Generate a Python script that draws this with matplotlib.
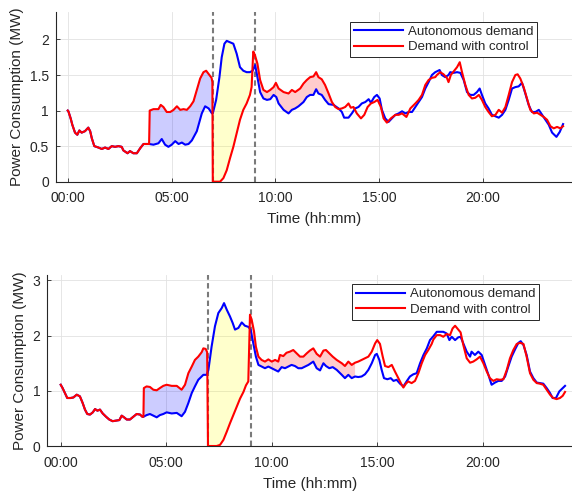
import numpy as np
import matplotlib
matplotlib.use("Agg")
import matplotlib.pyplot as plt

plt.rcParams['font.family'] = ['Liberation Sans', 'DejaVu Sans']
TXT = '#262626'

# ---- panel (a): tiempo en horas, potencia en MW ----
# tramo comun (antes de las 04:00 las dos curvas coinciden)
early_a = [(0.00, 1.00), (0.03, 0.99), (0.14, 0.89), (0.22, 0.80), (0.35, 0.69), (0.46, 0.66),
           (0.56, 0.72), (0.67, 0.69), (0.83, 0.71), (0.99, 0.76), (1.08, 0.71), (1.16, 0.61),
           (1.28, 0.50), (1.48, 0.48), (1.64, 0.46), (1.80, 0.48), (1.96, 0.46), (2.12, 0.50),
           (2.28, 0.49), (2.44, 0.50), (2.60, 0.49), (2.68, 0.44), (2.88, 0.40), (3.00, 0.43),
           (3.16, 0.40), (3.33, 0.40), (3.49, 0.47), (3.65, 0.53), (3.81, 0.53), (3.92, 0.53)]

blue_a = [(3.92, 0.51), (4.13, 0.52), (4.37, 0.54), (4.53, 0.60), (4.69, 0.52), (4.85, 0.49),
          (5.01, 0.52), (5.18, 0.57), (5.34, 0.53), (5.50, 0.55), (5.66, 0.52), (5.82, 0.53),
          (5.98, 0.58), (6.22, 0.71), (6.46, 0.96), (6.62, 1.06), (6.79, 1.03), (6.95, 0.96),
          (6.99, 0.96), (7.15, 1.15), (7.31, 1.47), (7.42, 1.75), (7.55, 1.94), (7.66, 1.98),
          (7.82, 1.96), (7.98, 1.94), (8.14, 1.80), (8.30, 1.61), (8.46, 1.56), (8.62, 1.54),
          (8.78, 1.54), (8.91, 1.56), (9.03, 1.64), (9.14, 1.47), (9.27, 1.26), (9.43, 1.17),
          (9.60, 1.15), (9.76, 1.16), (9.92, 1.22), (10.05, 1.19), (10.16, 1.10), (10.40, 1.01),
          (10.64, 0.96), (10.80, 1.01), (10.96, 1.03), (11.12, 1.06), (11.36, 1.12), (11.52, 1.19),
          (11.68, 1.22), (11.84, 1.22), (11.97, 1.30), (12.08, 1.24), (12.24, 1.22), (12.40, 1.15),
          (12.57, 1.09), (12.81, 1.08), (13.05, 1.03), (13.21, 0.98), (13.32, 0.90), (13.53, 0.90),
          (13.69, 0.96), (13.85, 1.03), (14.01, 1.05), (14.17, 1.10), (14.34, 1.12), (14.50, 1.16),
          (14.61, 1.11), (14.77, 1.19), (14.90, 1.22), (15.03, 1.17), (15.14, 1.01), (15.30, 0.89),
          (15.46, 0.84), (15.62, 0.89), (15.79, 0.94), (15.95, 0.96), (16.11, 0.99), (16.27, 0.96),
          (16.43, 0.98), (16.59, 0.98), (16.75, 1.05), (16.91, 1.12), (17.07, 1.19), (17.23, 1.31),
          (17.39, 1.40), (17.55, 1.50), (17.71, 1.54), (17.92, 1.57), (18.03, 1.50), (18.19, 1.47),
          (18.35, 1.50), (18.43, 1.54), (18.59, 1.53), (18.76, 1.54), (18.92, 1.53), (19.08, 1.43),
          (19.24, 1.26), (19.40, 1.22), (19.56, 1.22), (19.72, 1.26), (19.85, 1.31), (19.96, 1.22),
          (20.12, 1.10), (20.28, 1.03), (20.44, 0.94), (20.61, 0.92), (20.77, 0.90), (20.93, 0.94),
          (21.09, 1.01), (21.25, 1.15), (21.41, 1.31), (21.57, 1.33), (21.73, 1.34), (21.89, 1.39),
          (22.05, 1.24), (22.21, 1.08), (22.37, 0.98), (22.54, 0.98), (22.70, 1.01), (22.86, 0.94),
          (23.02, 0.87), (23.18, 0.80), (23.34, 0.69), (23.55, 0.63), (23.71, 0.70), (23.87, 0.81)]

red_a = [(3.92, 0.53), (3.95, 1.00), (4.13, 1.02), (4.37, 1.02), (4.48, 1.08), (4.61, 1.05),
         (4.77, 0.98), (4.94, 0.98), (5.10, 1.01), (5.26, 1.06), (5.42, 1.01), (5.58, 1.02),
         (5.74, 1.01), (5.90, 1.06), (6.06, 1.13), (6.22, 1.29), (6.38, 1.45), (6.54, 1.54),
         (6.67, 1.56), (6.83, 1.50), (6.93, 1.46), (6.97, 1.40), (6.99, 0.00), (7.34, 0.00),
         (7.50, 0.05), (7.66, 0.16), (7.82, 0.33), (7.98, 0.49), (8.14, 0.68), (8.30, 0.87),
         (8.46, 1.01), (8.62, 1.10), (8.78, 1.22), (8.86, 1.33), (8.94, 1.83), (9.02, 1.78),
         (9.14, 1.66), (9.27, 1.43), (9.43, 1.29), (9.60, 1.26), (9.76, 1.29), (9.92, 1.33),
         (10.03, 1.39), (10.16, 1.31), (10.40, 1.26), (10.64, 1.24), (10.80, 1.29), (10.96, 1.26),
         (11.20, 1.31), (11.36, 1.38), (11.52, 1.43), (11.68, 1.47), (11.84, 1.48), (11.97, 1.54),
         (12.08, 1.47), (12.24, 1.44), (12.40, 1.36), (12.57, 1.24), (12.73, 1.12), (12.89, 1.05),
         (13.05, 1.02), (13.21, 1.03), (13.37, 1.05), (13.53, 1.10), (13.64, 1.04), (13.77, 1.05),
         (13.93, 0.96), (14.13, 0.89), (14.29, 0.94), (14.45, 1.05), (14.61, 1.10), (14.77, 1.12),
         (14.93, 1.15), (15.09, 1.05), (15.22, 0.89), (15.38, 0.83), (15.57, 0.89), (15.79, 0.94),
         (15.95, 0.94), (16.11, 0.96), (16.32, 0.91), (16.51, 1.03), (16.75, 1.10), (16.91, 1.15),
         (17.07, 1.22), (17.23, 1.36), (17.39, 1.43), (17.55, 1.46), (17.71, 1.47), (17.79, 1.50),
         (17.95, 1.54), (18.11, 1.51), (18.27, 1.46), (18.35, 1.40), (18.46, 1.50), (18.62, 1.56),
         (18.76, 1.61), (18.89, 1.68), (19.00, 1.54), (19.16, 1.36), (19.32, 1.22), (19.48, 1.17),
         (19.64, 1.18), (19.81, 1.22), (19.96, 1.15), (20.12, 1.05), (20.28, 0.98), (20.44, 0.92),
         (20.61, 0.94), (20.77, 1.01), (20.93, 0.97), (21.09, 1.05), (21.25, 1.22), (21.41, 1.40),
         (21.57, 1.50), (21.68, 1.51), (21.81, 1.45), (21.97, 1.33), (22.13, 1.17), (22.29, 1.01),
         (22.46, 0.96), (22.62, 0.97), (22.78, 0.94), (22.94, 0.91), (23.10, 0.87), (23.26, 0.78),
         (23.42, 0.75), (23.58, 0.77), (23.74, 0.75), (23.87, 0.78)]

# ventanas de sombreado (inicio, fin) en horas
win_up_a = (3.92, 6.98)     # carga adelantada
win_shift_a = (6.99, 8.92)  # periodo controlado
win_rec_a = (8.92, 12.85)   # recuperacion

# ---- panel (b) ----
early_b = [(0.00, 1.11), (0.09, 1.05), (0.20, 0.96), (0.31, 0.87), (0.47, 0.87), (0.60, 0.88),
           (0.76, 0.93), (0.91, 0.90), (1.04, 0.78), (1.15, 0.66), (1.26, 0.58), (1.39, 0.57),
           (1.52, 0.61), (1.63, 0.67), (1.74, 0.64), (1.86, 0.66), (1.99, 0.59), (2.15, 0.53),
           (2.30, 0.48), (2.46, 0.45), (2.62, 0.46), (2.78, 0.47), (2.89, 0.55), (3.00, 0.52),
           (3.13, 0.48), (3.28, 0.48), (3.44, 0.53), (3.60, 0.58), (3.76, 0.57), (3.87, 0.53),
           (3.92, 0.53)]

blue_b = [(3.92, 0.53), (4.07, 0.56), (4.23, 0.58), (4.39, 0.55), (4.55, 0.52), (4.70, 0.56),
          (4.86, 0.58), (5.02, 0.61), (5.26, 0.59), (5.50, 0.60), (5.73, 0.54), (5.89, 0.62),
          (6.05, 0.78), (6.21, 0.96), (6.36, 1.08), (6.52, 1.20), (6.68, 1.26), (6.76, 1.29),
          (6.92, 1.29), (7.00, 1.38), (7.15, 1.80), (7.31, 2.17), (7.47, 2.41), (7.63, 2.50),
          (7.74, 2.59), (7.87, 2.47), (8.02, 2.35), (8.15, 2.23), (8.26, 2.11), (8.42, 2.14),
          (8.58, 2.24), (8.73, 2.18), (8.89, 2.16), (9.00, 2.11), (9.13, 1.86), (9.25, 1.62),
          (9.37, 1.47), (9.52, 1.44), (9.68, 1.41), (9.84, 1.44), (10.00, 1.41), (10.16, 1.38),
          (10.31, 1.35), (10.47, 1.43), (10.63, 1.41), (10.78, 1.44), (10.94, 1.47), (11.10, 1.45),
          (11.26, 1.41), (11.42, 1.41), (11.58, 1.44), (11.74, 1.47), (11.97, 1.53), (12.13, 1.41),
          (12.29, 1.37), (12.45, 1.50), (12.57, 1.45), (12.73, 1.41), (12.89, 1.43), (13.08, 1.38),
          (13.32, 1.29), (13.47, 1.23), (13.63, 1.29), (13.79, 1.23), (13.95, 1.26), (14.10, 1.25),
          (14.26, 1.26), (14.42, 1.30), (14.58, 1.38), (14.74, 1.50), (14.90, 1.65), (14.98, 1.67),
          (15.10, 1.56), (15.21, 1.38), (15.32, 1.23), (15.48, 1.21), (15.64, 1.23), (15.77, 1.18),
          (15.92, 1.20), (16.08, 1.13), (16.24, 1.08), (16.39, 1.17), (16.55, 1.26), (16.71, 1.30),
          (16.87, 1.32), (17.03, 1.50), (17.19, 1.65), (17.35, 1.77), (17.50, 1.92), (17.66, 1.99),
          (17.82, 2.07), (17.98, 2.07), (18.13, 2.07), (18.29, 2.04), (18.42, 1.92), (18.53, 1.98),
          (18.69, 1.92), (18.84, 1.97), (18.95, 1.98), (19.08, 1.86), (19.24, 1.71), (19.40, 1.62),
          (19.47, 1.71), (19.63, 1.65), (19.79, 1.71), (19.95, 1.65), (20.11, 1.47), (20.27, 1.29),
          (20.42, 1.11), (20.58, 1.15), (20.74, 1.18), (20.90, 1.18), (21.06, 1.26), (21.22, 1.45),
          (21.37, 1.62), (21.53, 1.75), (21.69, 1.87), (21.80, 1.90), (21.93, 1.83), (22.08, 1.65),
          (22.24, 1.35), (22.40, 1.23), (22.56, 1.15), (22.71, 1.14), (22.87, 1.13), (23.03, 1.05),
          (23.19, 0.96), (23.31, 0.87), (23.47, 0.87), (23.63, 0.99), (23.79, 1.05), (23.90, 1.09)]

red_b = [(3.92, 0.53), (3.94, 1.05), (4.07, 1.08), (4.23, 1.07), (4.39, 1.02), (4.55, 1.01),
         (4.70, 1.05), (4.86, 1.09), (5.02, 1.11), (5.26, 1.09), (5.50, 1.09), (5.73, 1.02),
         (5.89, 1.11), (6.05, 1.32), (6.21, 1.44), (6.36, 1.56), (6.52, 1.62), (6.68, 1.70),
         (6.76, 1.77), (6.87, 1.76), (6.94, 1.70), (6.98, 0.00), (7.39, 0.00), (7.55, 0.02),
         (7.71, 0.11), (7.87, 0.26), (8.02, 0.41), (8.18, 0.56), (8.34, 0.71), (8.50, 0.86),
         (8.66, 0.98), (8.78, 1.10), (8.89, 1.17), (8.94, 1.93), (8.97, 2.38), (9.05, 2.29),
         (9.16, 2.08), (9.25, 1.80), (9.37, 1.62), (9.52, 1.56), (9.68, 1.53), (9.84, 1.57),
         (10.00, 1.53), (10.16, 1.56), (10.31, 1.53), (10.39, 1.65), (10.55, 1.63), (10.70, 1.69),
         (10.86, 1.71), (11.02, 1.74), (11.18, 1.68), (11.34, 1.62), (11.50, 1.62), (11.66, 1.68),
         (11.81, 1.73), (11.97, 1.77), (12.13, 1.67), (12.29, 1.62), (12.45, 1.73), (12.57, 1.74),
         (12.73, 1.68), (12.89, 1.62), (13.08, 1.56), (13.32, 1.50), (13.47, 1.45), (13.63, 1.53),
         (13.79, 1.47), (13.95, 1.51), (14.10, 1.53), (14.26, 1.56), (14.42, 1.59), (14.58, 1.62),
         (14.74, 1.71), (14.90, 1.86), (15.00, 1.92), (15.13, 1.85), (15.26, 1.62), (15.37, 1.45),
         (15.53, 1.43), (15.69, 1.47), (15.84, 1.35), (16.00, 1.23), (16.16, 1.11), (16.24, 1.06),
         (16.36, 1.13), (16.47, 1.17), (16.63, 1.14), (16.79, 1.18), (16.95, 1.32), (17.11, 1.50),
         (17.27, 1.65), (17.42, 1.74), (17.58, 1.85), (17.66, 1.93), (17.82, 2.01), (17.98, 2.01),
         (18.13, 1.98), (18.29, 2.03), (18.45, 2.01), (18.57, 2.13), (18.69, 2.18), (18.84, 2.11),
         (18.95, 2.06), (19.08, 1.83), (19.24, 1.59), (19.40, 1.51), (19.55, 1.53), (19.71, 1.57),
         (19.87, 1.62), (20.03, 1.50), (20.19, 1.35), (20.34, 1.23), (20.50, 1.18), (20.66, 1.21),
         (20.82, 1.20), (20.98, 1.21), (21.14, 1.38), (21.29, 1.59), (21.45, 1.74), (21.61, 1.85),
         (21.77, 1.87), (21.93, 1.85), (22.08, 1.62), (22.24, 1.32), (22.40, 1.20), (22.56, 1.14),
         (22.71, 1.13), (22.87, 1.11), (23.03, 1.02), (23.19, 0.93), (23.34, 0.87), (23.50, 0.85),
         (23.66, 0.87), (23.79, 0.91), (23.90, 0.98)]

win_up_b = (3.92, 6.97)
win_shift_b = (6.98, 8.95)
win_rec_b = (8.96, 14.0)

CTRL_START, CTRL_END = 7.0, 9.0
XTICKS = [0, 5, 10, 15, 20]
XTICKLABELS = ['00:00', '05:00', '10:00', '15:00', '20:00']


def arr(pts):
    a = np.array(pts)
    return a[:, 0], a[:, 1]


def poly(ax, upper, lower, win, color):
    tu, vu = upper
    tl, vl = lower
    mu = (tu >= win[0]) & (tu <= win[1])
    ml = (tl >= win[0]) & (tl <= win[1])
    xs = np.concatenate([tu[mu], tl[ml][::-1]])
    ys = np.concatenate([vu[mu], vl[ml][::-1]])
    ax.fill(xs, ys, color=color, alpha=0.2, linewidth=0, zorder=1)


def panel(ax, early, blue, red, wins, ylim, yticks, yticklabels, xlim):
    te, ve = arr(early)
    tb, vb = arr(blue)
    tr, vr = arr(red)
    b = (np.concatenate([te, tb[1:]]), np.concatenate([ve, vb[1:]]))
    r = (np.concatenate([te, tr[1:]]), np.concatenate([ve, vr[1:]]))

    poly(ax, r, b, wins[0], 'blue')
    poly(ax, b, r, wins[1], 'yellow')
    poly(ax, r, b, wins[2], 'red')

    ax.plot(b[0], b[1], color='#0000ff', lw=1.5, label='Autonomous demand', zorder=3)
    ax.plot(r[0], r[1], color='#ff0000', lw=1.5, label='Demand with control', zorder=4)
    for xv in (CTRL_START, CTRL_END):
        ax.axvline(xv, color='#7a7a7a', lw=1.5, ls=(0, (2.6, 1.6)), zorder=2)

    ax.set_xlim(*xlim)
    ax.set_ylim(*ylim)
    ax.set_xticks(XTICKS)
    ax.set_xticklabels(XTICKLABELS)
    ax.set_yticks(yticks)
    ax.set_yticklabels(yticklabels)
    ax.grid(True, color='#e2e2e2', lw=0.6, zorder=0)
    ax.set_axisbelow(True)
    for s in ('top', 'right'):
        ax.spines[s].set_visible(False)
    for s in ('left', 'bottom'):
        ax.spines[s].set_color(TXT)
        ax.spines[s].set_linewidth(0.8)
    ax.tick_params(direction='in', length=3, width=0.6, colors=TXT, labelsize=10)
    ax.tick_params(axis='x', pad=7)
    ax.tick_params(axis='y', pad=5)
    ax.set_xlabel('Time (hh:mm)', fontsize=11, color=TXT, labelpad=5)
    ax.set_ylabel('Power Consumption (MW)', fontsize=11, color=TXT, labelpad=4)


fig = plt.figure(figsize=(5.72, 4.96), dpi=100)
ax1 = fig.add_axes([0.0974, 0.6337, 0.9026, 0.3427])
ax2 = fig.add_axes([0.0827, 0.1008, 0.9173, 0.3448])

panel(ax1, early_a, blue_a, red_a, (win_up_a, win_shift_a, win_rec_a),
      (0, 2.39), [0, 0.5, 1, 1.5, 2], ['0', '0.5', '1', '1.5', '2'], (-0.58, 24.3))
panel(ax2, early_b, blue_b, red_b, (win_up_b, win_shift_b, win_rec_b),
      (0, 3.1), [0, 1, 2, 3], ['0', '1', '2', '3'], (-0.635, 24.23))

for ax, anchor in ((ax1, (0.9394, 0.9563)), (ax2, (0.9428, 0.4274))):
    leg = ax.legend(loc='upper right', bbox_to_anchor=anchor, bbox_transform=fig.transFigure,
                    borderaxespad=0, fontsize=9.5, handlelength=3.7, handletextpad=0.4,
                    labelspacing=0.25, borderpad=0.3, fancybox=False, framealpha=1)
    leg.get_frame().set_edgecolor(TXT)
    leg.get_frame().set_linewidth(0.7)
    for t in leg.get_texts():
        t.set_color(TXT)

fig.savefig('out.png', dpi=100)
